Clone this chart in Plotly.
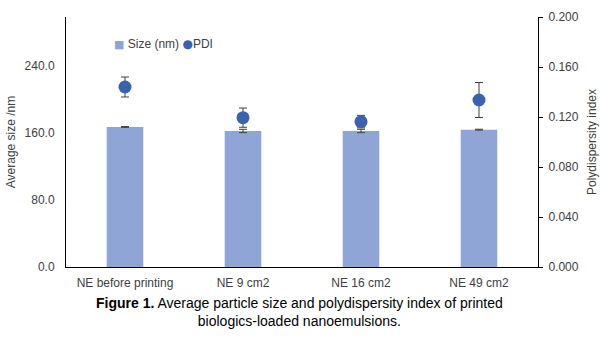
import plotly.graph_objects as go

categories = ["NE before printing", "NE 9 cm2", "NE 16 cm2", "NE 49 cm2"]
size_nm = [167.2, 162.4, 162.4, 164.0]
size_err = [0.5, 2.0, 2.0, 0.5]
pdi = [0.144, 0.1195, 0.1163, 0.1336]
pdi_err = [0.008, 0.0077, 0.005, 0.014]

FONT = "Liberation Sans, Arial, sans-serif"
TXT = "#404040"
BAR_C = "#8FA5D6"
PT_C = "#3A62AF"

fig = go.Figure()
fig.add_trace(go.Bar(
    x=categories, y=size_nm, name="Size (nm)",
    marker=dict(color=BAR_C, line=dict(width=0)),
    width=0.31,
    error_y=dict(type="data", array=size_err, color="#404040", thickness=1, width=4),
    yaxis="y",
))
fig.add_trace(go.Scatter(
    x=categories, y=pdi, name="PDI", mode="markers",
    marker=dict(color=PT_C, size=13),
    error_y=dict(type="data", array=pdi_err, color="#404040", thickness=1, width=4),
    yaxis="y2",
))

fig.update_layout(
    width=600, height=345,
    margin=dict(l=66, r=62, t=17, b=78),
    paper_bgcolor="white", plot_bgcolor="white",
    font=dict(family=FONT, size=12, color=TXT),
    showlegend=False,
    xaxis=dict(showline=True, linecolor="#000000", linewidth=1,
               ticks="outside", ticklen=5, tickcolor="rgba(0,0,0,0)",
               showgrid=False, automargin=False, tickfont=dict(size=12, color=TXT)),
    yaxis=dict(range=[0, 298.5], tickvals=[0, 80, 160, 240], tickformat=".1f",
               showline=True, linecolor="#000000", linewidth=1, ticks="",
               ticklabelstandoff=8, automargin=False,
               showgrid=False, zeroline=False,
               title=dict(text="Average size /nm", font=dict(size=12, color=TXT), standoff=6),
               tickfont=dict(size=12, color=TXT)),
    yaxis2=dict(range=[0, 0.2], dtick=0.04, tick0=0, tickformat=".3f",
                overlaying="y", side="right",
                showline=True, linecolor="#000000", linewidth=1,
                ticks="outside", ticklen=4, tickcolor="#000000",
                ticklabelstandoff=3, automargin=False,
                showgrid=False, zeroline=False,
                title=dict(text="Polydispersity index", font=dict(size=12, color=TXT), standoff=9),
                tickfont=dict(size=12, color=TXT)),
)

# legend drawn as text (compact, like the original)
legend_text = (
    f"<span style='color:{BAR_C};font-family:DejaVu Sans;font-size:11px'>■</span> Size (nm) "
    f"<span style='color:{PT_C};font-family:DejaVu Sans;font-size:12px'>●</span>PDI"
)
fig.add_annotation(
    text=legend_text, xref="paper", yref="paper", x=0.0975, y=0.892,
    xanchor="left", yanchor="middle", showarrow=False,
    font=dict(family=FONT, size=12, color=TXT),
)

fig.add_annotation(
    text="<b>Figure 1.</b> Average particle size and polydispersity index of printed<br>biologics-loaded nanoemulsions.",
    xref="paper", yref="paper", x=0.495, y=-0.104, xanchor="center", yanchor="top",
    showarrow=False, align="center",
    font=dict(family=FONT, size=14, color="#000000"),
)

fig.write_html("out.html")
